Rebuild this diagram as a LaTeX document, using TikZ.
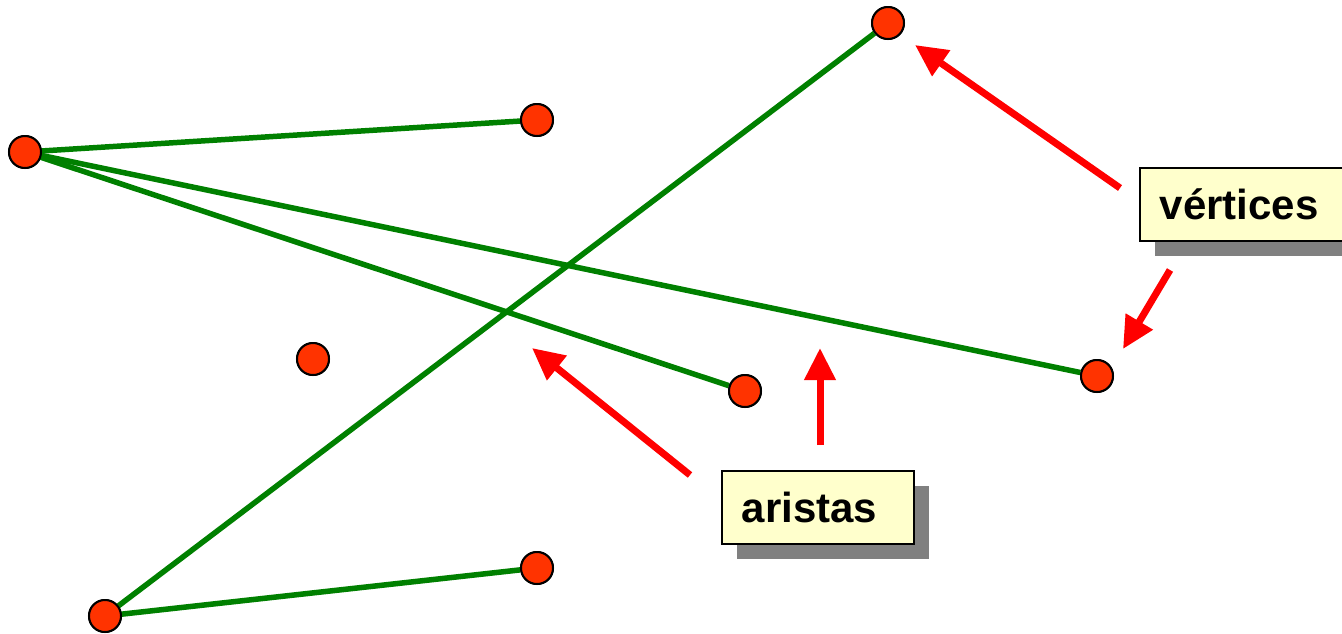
\documentclass[tikz,border=0pt]{standalone}
\usepackage{fontspec}
\setmainfont{Liberation Sans}
\usetikzlibrary{arrows.meta,shadows}
\definecolor{edgegreen}{RGB}{0,128,0}
\definecolor{vertfill}{RGB}{255,51,0}
\definecolor{boxfill}{RGB}{255,255,204}
\definecolor{shadowgray}{RGB}{128,128,128}
\begin{document}
\begin{tikzpicture}[x=1pt,y=-1pt,
  vert/.style={circle,draw=black,line width=2pt,fill=vertfill,minimum size=32pt,inner sep=0pt},
  edge/.style={draw=edgegreen,line width=5.5pt},
  pointer/.style={draw=red,line width=7pt,-{Triangle[length=32pt,width=30pt]},fill=red},
  labelbox/.style={draw=black,line width=1.5pt,fill=boxfill,anchor=north west,
    minimum height=73pt,inner xsep=20pt,inner ysep=0pt,align=left,
    font=\fontsize{42}{50}\selectfont\bfseries,
    drop shadow={shadow xshift=15pt,shadow yshift=-15pt,fill=shadowgray,opacity=1}}]
\useasboundingbox (0,0) rectangle (1342,633);
\node[vert] (A) at (25,152) {};
\node[vert] (B) at (537,120) {};
\node[vert] (C) at (888,23) {};
\node[vert] (D) at (313,359) {};
\node[vert] (E) at (745,391) {};
\node[vert] (F) at (1097,376) {};
\node[vert] (G) at (105,616) {};
\node[vert] (H) at (537,568) {};
\path[edge] (A.center) -- (B);
\path[edge] (A.center) -- (E);
\path[edge] (A.center) -- (F);
\path[edge] (C) -- (G.center);
\path[edge] (G.center) -- (H);
\foreach \n in {A,B,C,D,E,F,G,H} {\node[vert] at (\n) {};}
\node[labelbox,text width=210pt] (vbox) at (1139,167) {vértices};
\node[labelbox,text width=152pt] (abox) at (721,470) {aristas};
\coordinate (v1s) at (1120,188);
\coordinate (v1e) at (915,45);
\coordinate (v2s) at (1170,270);
\coordinate (v2e) at (1123,349);
\coordinate (a1s) at (690,475);
\coordinate (a1e) at (532,348);
\coordinate (a2s) at (820,445);
\coordinate (a2e) at (820,348);
\draw[pointer] (v1s) -- (v1e);
\draw[pointer] (v2s) -- (v2e);
\draw[pointer] (a1s) -- (a1e);
\draw[pointer] (a2s) -- (a2e);
\end{tikzpicture}
\end{document}
